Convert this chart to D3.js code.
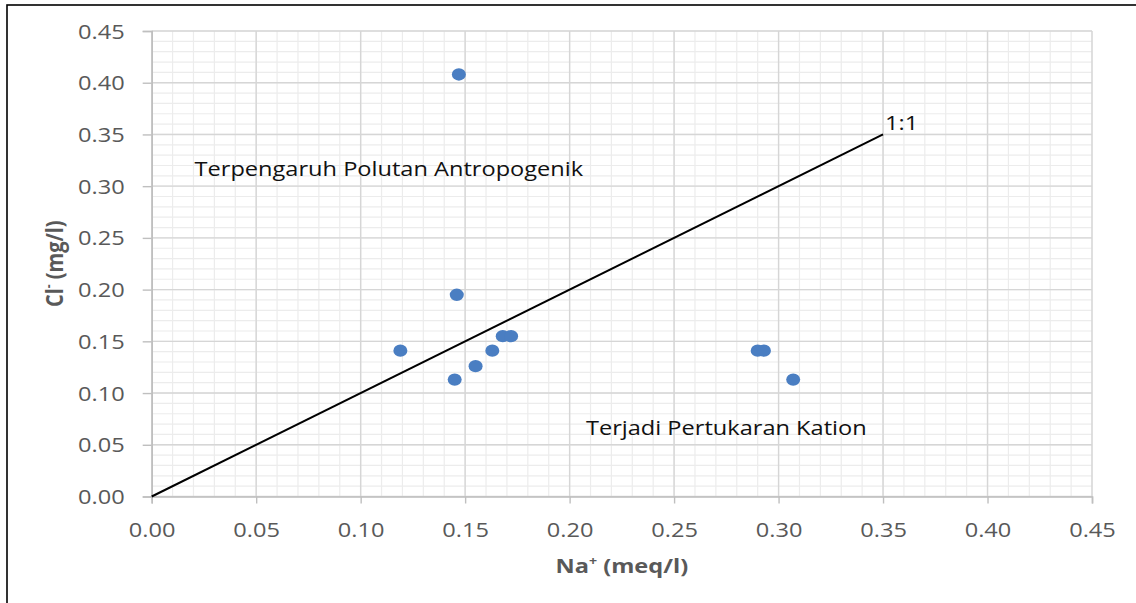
<!DOCTYPE html>
<html>
<head>
<meta charset="utf-8">
<script src="https://cdn.jsdelivr.net/npm/d3@7"></script>
<style>
  html, body { margin: 0; padding: 0; background: #fff; }
  svg { display: block; }
  text { font-family: "Open Sans", sans-serif; }
</style>
</head>
<body>
<svg id="chart" width="1136" height="603"></svg>
<script>
// ---- data ----
const naValues = [0.147, 0.146, 0.119, 0.145, 0.155, 0.163, 0.168, 0.172, 0.290, 0.293, 0.307];
const clValues = [0.408, 0.195, 0.141, 0.113, 0.126, 0.141, 0.155, 0.155, 0.141, 0.141, 0.113];
const refLineX = [0, 0.35];
const refLineY = [0, 0.35];
const xTicks = [0, 0.05, 0.10, 0.15, 0.20, 0.25, 0.30, 0.35, 0.40, 0.45];
const yTicks = [0, 0.05, 0.10, 0.15, 0.20, 0.25, 0.30, 0.35, 0.40, 0.45];
const minorTicks = d3.range(0, 46).map(i => i / 100);
const xTitle = "Na";
const yTitle = "Cl";
const annotations = [
  { text: "Terpengaruh Polutan Antropogenik", x: 0.0205, y: 0.31 },
  { text: "Terjadi Pertukaran Kation", x: 0.2078, y: 0.0595 }
];
const refLabel = "1:1";

// ---- layout ----
const svg = d3.select("#chart");
const W = 1136, H = 603;
const m = { left: 151.7, top: 31, right: W - 1092, bottom: H - 496.5 };
const iw = W - m.left - m.right, ih = H - m.top - m.bottom;
const SX = 1.18; // horizontal stretch of the original image text

const x = d3.scaleLinear().domain([0, 0.45]).range([0, iw]);
const y = d3.scaleLinear().domain([0, 0.45]).range([ih, 0]);

// border
svg.append("rect").attr("x", 7).attr("y", 5).attr("width", 1200).attr("height", 700)
  .attr("fill", "#fff").attr("stroke", "#000").attr("stroke-width", 1.6);

const g = svg.append("g").attr("transform", `translate(${m.left},${m.top})`);

// minor grid
g.append("g").selectAll("line").data(minorTicks).join("line")
  .attr("x1", d => x(d)).attr("x2", d => x(d)).attr("y1", 0).attr("y2", ih)
  .attr("stroke", "#ececec").attr("stroke-width", 1.2);
g.append("g").selectAll("line").data(minorTicks).join("line")
  .attr("y1", d => y(d)).attr("y2", d => y(d)).attr("x1", 0).attr("x2", iw)
  .attr("stroke", "#ececec").attr("stroke-width", 1.2);
// major grid
g.append("g").selectAll("line").data(xTicks).join("line")
  .attr("x1", d => x(d)).attr("x2", d => x(d)).attr("y1", 0).attr("y2", ih)
  .attr("stroke", "#d6d6d6").attr("stroke-width", 1.4);
g.append("g").selectAll("line").data(yTicks).join("line")
  .attr("y1", d => y(d)).attr("y2", d => y(d)).attr("x1", 0).attr("x2", iw)
  .attr("stroke", "#d6d6d6").attr("stroke-width", 1.4);

// axes
const fmt = d3.format(".2f");
const xAxis = g.append("g").attr("transform", `translate(0,${ih})`)
  .call(d3.axisBottom(x).tickValues(xTicks).tickFormat(fmt).tickSizeOuter(0).tickSize(7));
xAxis.select(".domain").attr("stroke", "#bfbfbf").attr("stroke-width", 1.6);
xAxis.selectAll(".tick line").attr("stroke", "#bfbfbf").attr("stroke-width", 1.4);
xAxis.selectAll(".tick text")
  .attr("y", 0).attr("dy", 0)
  .attr("transform", `translate(0,40.5) scale(${SX},1)`)
  .attr("fill", "#595959").style("font-size", "20px");

const yAxis = g.append("g")
  .call(d3.axisLeft(y).tickValues(yTicks).tickFormat(fmt).tickSizeOuter(0).tickSize(9));
yAxis.select(".domain").attr("stroke", "#bfbfbf").attr("stroke-width", 1.6);
yAxis.selectAll(".tick line").attr("stroke", "#bfbfbf").attr("stroke-width", 1.4);
yAxis.selectAll(".tick text")
  .attr("x", 0).attr("dy", "0.35em")
  .attr("transform", `translate(-27,0) scale(${SX},1)`)
  .attr("fill", "#595959").style("font-size", "20px");

// 1:1 line
const line = d3.line().x(d => x(d[0])).y(d => y(d[1]));
g.append("path").datum(d3.zip(refLineX, refLineY)).attr("d", line)
  .attr("fill", "none").attr("stroke", "#000").attr("stroke-width", 2);

// points
g.append("g").selectAll("ellipse").data(d3.zip(naValues, clValues)).join("ellipse")
  .attr("cx", d => x(d[0])).attr("cy", d => y(d[1]))
  .attr("rx", 7).attr("ry", 6.2)
  .attr("fill", "#4a7ec2");

// annotations
annotations.forEach(a => {
  g.append("text")
    .attr("transform", `translate(${x(a.x)},${y(a.y)}) scale(${SX},1)`)
    .attr("fill", "#111").style("font-size", "20px").text(a.text);
});
g.append("text")
  .attr("transform", `translate(${x(refLineX[1]) + 2},${y(refLineY[1]) - 4}) scale(${SX},1)`)
  .attr("fill", "#111").style("font-size", "20px").text(refLabel);

// axis titles
const xt = svg.append("text")
  .attr("transform", `translate(${m.left + iw / 2},573) scale(${SX},1)`)
  .attr("text-anchor", "middle").attr("fill", "#595959")
  .style("font-size", "20px").style("font-weight", "bold");
xt.append("tspan").text(xTitle);
xt.append("tspan").attr("baseline-shift", "super").style("font-size", "12px").text("+");
xt.append("tspan").text(" (meq/l)");

const yt = svg.append("text")
  .attr("transform", `translate(63,${m.top + ih / 2}) scale(${SX},1) rotate(-90)`)
  .attr("text-anchor", "middle").attr("fill", "#595959")
  .style("font-size", "20px").style("font-weight", "bold");
yt.append("tspan").text(yTitle);
yt.append("tspan").attr("baseline-shift", "super").style("font-size", "12px").text("-");
yt.append("tspan").text(" (mg/l)");
</script>
</body>
</html>
